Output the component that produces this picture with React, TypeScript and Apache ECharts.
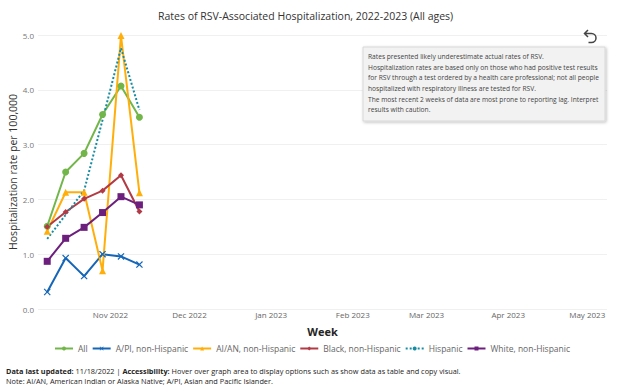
import React, { useEffect, useRef } from "react";
import * as echarts from "echarts";

const weeks = ["2022-10-08", "2022-10-15", "2022-10-22", "2022-10-29", "2022-11-05", "2022-11-12"];
const allRates = [1.51, 2.5, 2.84, 3.55, 4.07, 3.5];
const apiRates = [0.31, 0.93, 0.6, 1.0, 0.96, 0.81];
const aianRates = [1.42, 2.13, 2.13, 0.7, 4.99, 2.12];
const blackRates = [1.5, 1.77, 2.01, 2.16, 2.44, 1.78];
const hispanicRates = [1.28, 1.72, 2.16, 3.45, 4.76, 3.63];
const whiteRates = [0.87, 1.29, 1.49, 1.76, 2.05, 1.9];
const monthTicks = ["2022-11-01", "2022-12-01", "2023-01-01", "2023-02-01", "2023-03-01", "2023-04-01", "2023-05-01"];
const monthNames = ["Jan", "Feb", "Mar", "Apr", "May", "Jun", "Jul", "Aug", "Sep", "Oct", "Nov", "Dec"];
const axisMinDate = "2022-10-04";
const axisMaxDate = "2023-05-08";
const yTicks = [0, 1, 2, 3, 4, 5];

const titleText = "Rates of RSV-Associated Hospitalization, 2022-2023 (All ages)";
const noteLines = [
  "Rates presented likely underestimate actual rates of RSV.",
  "Hospitalization rates are based only on those who had positive test results",
  "for RSV through a test ordered by a health care professional; not all people",
  "hospitalized with respiratory illness are tested for RSV.",
  "The most recent 2 weeks of data are most prone to reporting lag. Interpret",
  "results with caution.",
];

const FONT = "'Open Sans', 'Noto Sans', sans-serif";

function ts(s: string, hour = 0): number {
  const [y, m, d] = s.split("-").map(Number);
  return new Date(y, m - 1, d, hour).getTime();
}

const xIcon = "path://M0,1.2 L1.2,0 L5,3.8 L8.8,0 L10,1.2 L6.2,5 L10,8.8 L8.8,10 L5,6.2 L1.2,10 L0,8.8 L3.8,5 Z";

echarts.graphic.registerShape(
  "undoIcon",
  echarts.graphic.extendPath("M5 1 L1.5 4.5 L5 8 M1.5 4.5 L8.5 4.5 A4.5 4.5 0 0 1 8.5 13.5 L5.5 13.5", {})
);

export default function App() {
  const ref = useRef<HTMLDivElement>(null);
  useEffect(() => {
    if (!ref.current) return;
    const chart = echarts.init(ref.current, null, { renderer: "svg" });
    const mk = (vals: number[]) => weeks.map((w, i) => [ts(w), vals[i]]);
    const seriesDefs = [
      { name: "All", data: allRates, color: "#72B64A", symbol: "circle", size: 7, dotted: false },
      { name: "A/PI, non-Hispanic", data: apiRates, color: "#1566B8", symbol: xIcon, size: 7, dotted: false },
      { name: "AI/AN, non-Hispanic", data: aianRates, color: "#FFAE0A", symbol: "triangle", size: 7, dotted: false },
      { name: "Black, non-Hispanic", data: blackRates, color: "#B23A45", symbol: "diamond", size: 6, dotted: false },
      { name: "Hispanic", data: hispanicRates, color: "#168CA3", symbol: "none", size: 0, dotted: true },
      { name: "White, non-Hispanic", data: whiteRates, color: "#6C1F7D", symbol: "rect", size: 7, dotted: false },
    ];
    chart.setOption({
      animation: false,
      backgroundColor: "#ffffff",
      textStyle: { fontFamily: FONT },
      title: {
        text: titleText,
        left: 153,
        top: 5,
        textStyle: { fontFamily: FONT, fontSize: 10.5, fontWeight: "normal", color: "#333333" },
      },
      grid: { left: 38, right: 17, top: 35, bottom: 79, containLabel: false, outerBoundsMode: "none" },
      xAxis: {
        type: "value",
        min: ts(axisMinDate, 12),
        max: ts(axisMaxDate, 12),
        axisLine: { show: false },
        axisTick: { show: false },
        splitLine: { show: false },
        axisLabel: {
          customValues: monthTicks.map((m) => ts(m)),
          formatter: (v: number) => {
            const d = new Date(v);
            return monthNames[d.getMonth()] + " " + d.getFullYear();
          },
          color: "#666666",
          fontSize: 8,
          fontFamily: FONT,
          margin: 1,
          hideOverlap: false,
          showMinLabel: true,
          showMaxLabel: true,
        },
        name: "Week",
        nameLocation: "middle",
        nameGap: 17,
        nameMoveOverlap: false,
        nameTextStyle: { fontFamily: FONT, fontSize: 11, fontWeight: "bold", color: "#252423" },
      },
      yAxis: {
        type: "value",
        min: yTicks[0],
        max: yTicks[yTicks.length - 1],
        interval: 1,
        axisLine: { show: false },
        axisTick: { show: false },
        splitLine: { lineStyle: { color: "#f0f0f0", width: 1 } },
        axisLabel: {
          formatter: (v: number) => v.toFixed(1),
          color: "#777777",
          fontSize: 8,
          fontFamily: FONT,
          margin: 4,
        },
        name: "Hospitalization rate per 100,000",
        nameLocation: "middle",
        nameGap: 20,
        nameMoveOverlap: false,
        nameTextStyle: { fontFamily: FONT, fontSize: 10.5, color: "#333333" },
      },
      legend: {
        left: "center",
        top: 339,
        itemWidth: 18,
        itemHeight: 5,
        itemGap: 4,
        textStyle: { fontFamily: FONT, fontSize: 8.5, color: "#666666" },
        data: seriesDefs.map((s) => s.name),
      },
      series: seriesDefs.map((s) => ({
        name: s.name,
        type: "line",
        data: mk(s.data),
        symbol: s.symbol,
        symbolSize: s.size,
        showSymbol: s.symbol !== "none",
        color: s.color,
        itemStyle: { color: s.color },
        lineStyle: { color: s.color, width: 2, type: s.dotted ? "dotted" : "solid" },
      })),
      graphic: [
        {
          type: "rect",
          shape: { x: 363, y: 47, width: 242, height: 74 },
          style: {
            fill: "#f2f2f2",
            stroke: "#d8d8d8",
            lineWidth: 1,
            shadowBlur: 3,
            shadowColor: "rgba(0,0,0,0.25)",
            shadowOffsetX: 1,
            shadowOffsetY: 1,
          },
          z: 10,
        },
        {
          type: "text",
          x: 368,
          y: 51,
          z: 11,
          style: {
            text: noteLines.join("\n"),
            fontFamily: FONT,
            fontSize: 6.65,
            lineHeight: 10.7,
            fill: "#444444",
          },
        },
        {
          type: "undoIcon",
          x: 583,
          y: 29,
          scaleX: 1,
          scaleY: 1,
          style: { stroke: "#444444", fill: "none", lineWidth: 1.5 },
          z: 11,
        },
        {
          type: "text",
          left: 6,
          top: 366,
          style: {
            text: "{b|Data last updated:} 11/18/2022 | {b|Accessibility:} Hover over graph area to display options such as show data as table and copy visual.\nNote: AI/AN, American Indian or Alaska Native; A/PI, Asian and Pacific Islander.",
            fontFamily: FONT,
            fontSize: 7.35,
            lineHeight: 10,
            fill: "#252423",
            rich: {
              b: { fontFamily: FONT, fontSize: 7.35, fontWeight: "bold", fill: "#252423" },
            },
          },
        },
      ],
    });
    return () => chart.dispose();
  }, []);
  return (
    <div
      ref={ref}
      style={{ position: "fixed", left: 0, top: 0, width: 624, height: 388, background: "#fff" }}
    />
  );
}
